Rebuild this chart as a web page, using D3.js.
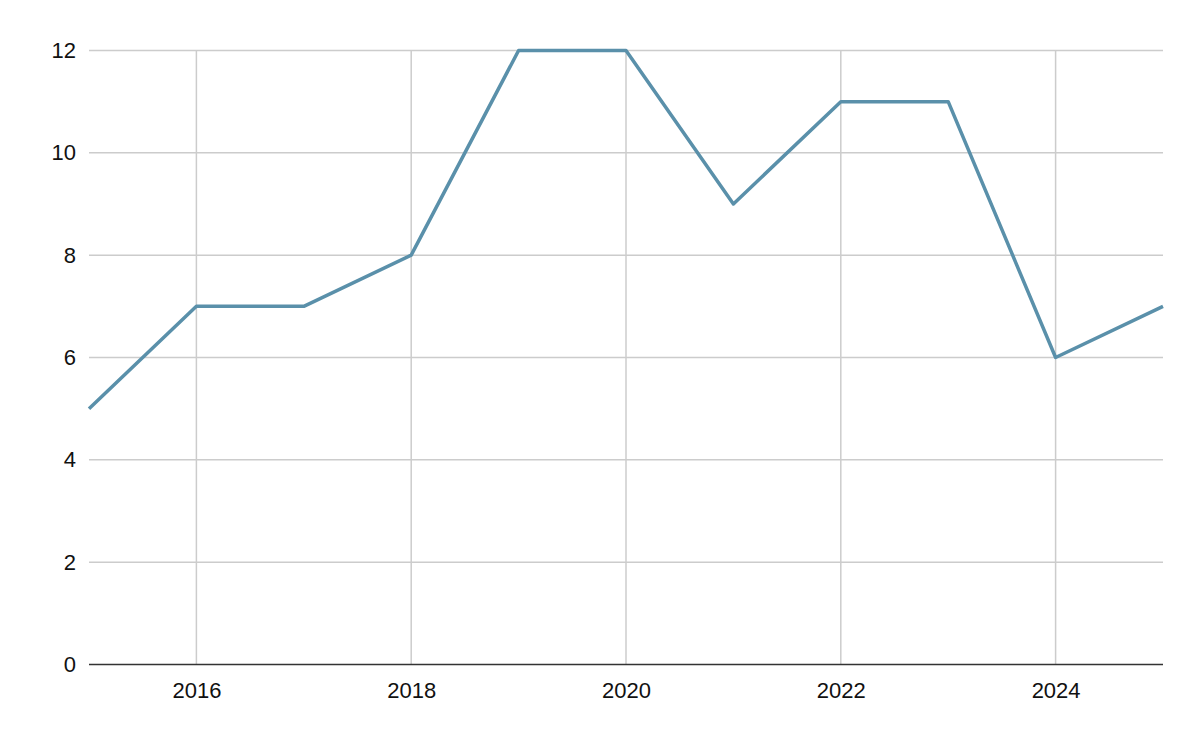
<!DOCTYPE html>
<html>
<head>
<meta charset="utf-8">
<script src="https://cdn.jsdelivr.net/npm/d3@7"></script>
<style>
  body { margin: 0; background: #fff; }
  text { font-family: "Liberation Sans", Arial, sans-serif; }
</style>
</head>
<body>
<svg width="1200" height="742"></svg>
<script>
var years = [2015, 2016, 2017, 2018, 2019, 2020, 2021, 2022, 2023, 2024, 2025];
var counts = [5, 7, 7, 8, 12, 12, 9, 11, 11, 6, 7];
var xTicks = [2016, 2018, 2020, 2022, 2024];
var yTicks = [0, 2, 4, 6, 8, 10, 12];

var svg = d3.select("svg");
var margin = {left: 89, right: 37, top: 50.5, bottom: 77.5};
var width = 1200 - margin.left - margin.right,
    height = 742 - margin.top - margin.bottom;

var x = d3.scaleLinear().domain([2015, 2025]).range([0, width]);
var y = d3.scaleLinear().domain([0, 12]).range([height, 0]);

var g = svg.append("g")
  .attr("transform", "translate(" + margin.left + "," + margin.top + ")");

// horizontal grid
g.append("g")
  .selectAll("line")
  .data(yTicks.filter(function(d) { return d > 0; }))
  .enter().append("line")
  .attr("x1", 0).attr("x2", width)
  .attr("y1", function(d) { return y(d); })
  .attr("y2", function(d) { return y(d); })
  .attr("stroke", "#cccccc")
  .attr("stroke-width", 1.5);

// vertical grid
g.append("g")
  .selectAll("line")
  .data(xTicks)
  .enter().append("line")
  .attr("x1", function(d) { return x(d); })
  .attr("x2", function(d) { return x(d); })
  .attr("y1", 0).attr("y2", height)
  .attr("stroke", "#cccccc")
  .attr("stroke-width", 1.5);

// y labels
var yAxis = g.append("g")
  .call(d3.axisLeft(y).tickValues(yTicks).tickSize(0).tickPadding(13));
yAxis.attr("font-size", 22).attr("font-family", "'Liberation Sans', Arial, sans-serif");
yAxis.select(".domain").remove();
yAxis.selectAll("text").attr("fill", "#111");

// x labels
var xAxis = g.append("g")
  .attr("transform", "translate(0," + height + ")")
  .call(d3.axisBottom(x).tickValues(xTicks).tickFormat(d3.format("d")).tickSize(0).tickPadding(18));
xAxis.attr("font-size", 22).attr("font-family", "'Liberation Sans', Arial, sans-serif");
xAxis.select(".domain").remove();
xAxis.selectAll("text").attr("fill", "#111");

// baseline
g.append("line")
  .attr("x1", 0).attr("x2", width)
  .attr("y1", y(0)).attr("y2", y(0))
  .attr("stroke", "#333")
  .attr("stroke-width", 1.5);

var line = d3.line()
  .x(function(d, i) { return x(years[i]); })
  .y(function(d) { return y(d); });

g.append("path")
  .datum(counts)
  .attr("d", line)
  .attr("fill", "none")
  .attr("stroke", "#5a90aa")
  .attr("stroke-width", 3.5)
  .attr("stroke-linejoin", "round");
</script>
</body>
</html>
